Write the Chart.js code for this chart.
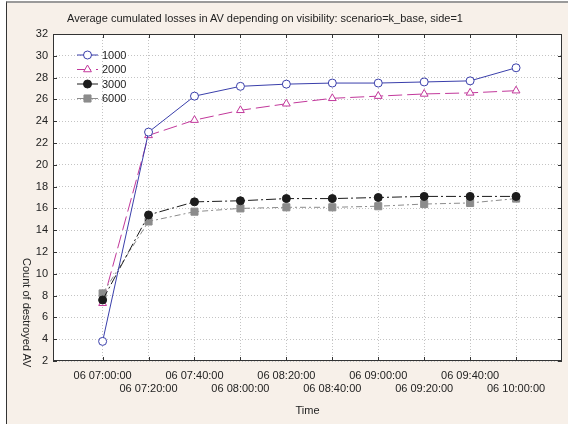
<!DOCTYPE html>
<html lang="en">
<head>
	<meta charset="UTF-8">
	<title>Average cumulated losses in AV</title>
	<script src="https://cdn.jsdelivr.net/npm/chart.js@4.4.1/dist/chart.umd.min.js"></script>
	<style>
		body { margin: 0; background: #fff; font-family: "Liberation Sans", Arial, sans-serif; }
		#wrap { position: relative; width: 568px; height: 424px; overflow: hidden; }
		#frame { position: absolute; left: 6px; top: 1px; width: 562px; height: 423px; background: #f7f0e9;
			border-left: 1px solid #333; border-top: 2px solid #9a9a9a; box-sizing: border-box; }
		#chart { position: absolute; left: 0; top: 0; }
		.title { position: absolute; left: 265px; top: 12px; transform: translateX(-50%); white-space: nowrap;
			font-size: 11px; color: #222; }
		.ytitle { position: absolute; left: 21px; top: 258px; writing-mode: vertical-rl; white-space: nowrap;
			font-size: 11px; color: #222; }
	</style>
</head>
<body>
	<div id="wrap">
		<div id="frame"></div>
		<canvas id="chart" width="568" height="424"></canvas>
		<div class="title">Average cumulated losses in AV depending on visibility: scenario=k_base, side=1</div>
		<div class="ytitle">Count of destroyed AV</div>
	</div>

	<script>
		// time steps on the x axis
		var categories = ['06 07:00:00', '06 07:20:00', '06 07:40:00', '06 08:00:00', '06 08:20:00',
			'06 08:40:00', '06 09:00:00', '06 09:20:00', '06 09:40:00', '06 10:00:00'];

		// visibility series
		var seriesNames = ['1000', '2000', '3000', '6000'];
		var v1000 = [3.8, 23.0, 26.3, 27.2, 27.4, 27.5, 27.5, 27.6, 27.7, 28.9];
		var v2000 = [7.3, 22.7, 24.1, 25.0, 25.6, 26.1, 26.3, 26.5, 26.6, 26.8];
		var v3000 = [7.6, 15.4, 16.6, 16.7, 16.9, 16.9, 17.0, 17.1, 17.1, 17.1];
		var v6000 = [8.2, 14.8, 15.7, 16.0, 16.1, 16.1, 16.2, 16.4, 16.5, 16.9];

		// y ticks
		var yMin = 2, yMax = 32, yStep = 2;

		function pts(values) {
			return values.map(function (v, i) { return { x: i, y: v }; });
		}

		var font = { family: '"Liberation Sans", Arial, sans-serif', size: 11 };

		// white plot area, frame and inward tick marks
		var plotFrame = {
			id: 'plotFrame',
			beforeDraw: function (chart) {
				var a = chart.chartArea, ctx = chart.ctx;
				ctx.save();
				ctx.fillStyle = '#fff';
				ctx.fillRect(a.left, a.top, a.right - a.left, a.bottom - a.top);
				ctx.restore();
			},
			afterDatasetsDraw: function (chart) {
				var a = chart.chartArea, ctx = chart.ctx;
				var xs = chart.scales.x, ys = chart.scales.y;
				ctx.save();
				ctx.strokeStyle = '#333';
				ctx.lineWidth = 1;
				ctx.strokeRect(a.left + 0.5, a.top + 0.5, a.right - a.left - 1, a.bottom - a.top - 1);
				ctx.beginPath();
				xs.ticks.forEach(function (t) {
					var x = Math.round(xs.getPixelForValue(t.value)) + 0.5;
					ctx.moveTo(x, a.bottom); ctx.lineTo(x, a.bottom - 4);
					ctx.moveTo(x, a.top); ctx.lineTo(x, a.top + 4);
				});
				ys.ticks.forEach(function (t) {
					var y = Math.round(ys.getPixelForValue(t.value)) + 0.5;
					ctx.moveTo(a.left, y); ctx.lineTo(a.left + 4, y);
					ctx.moveTo(a.right, y); ctx.lineTo(a.right - 4, y);
				});
				ctx.stroke();
				ctx.restore();
			}
		};

		// legend in the top left corner of the plot, line + marker
		var innerLegend = {
			id: 'innerLegend',
			afterDraw: function (chart) {
				var ctx = chart.ctx;
				var rows = [55, 69.5, 84, 98.5];
				ctx.save();
				chart.data.datasets.forEach(function (ds, i) {
					var y = rows[i];
					ctx.strokeStyle = ds.borderColor;
					ctx.lineWidth = ds.borderWidth;
					ctx.setLineDash(ds.legendDash || []);
					ctx.beginPath();
					ctx.moveTo(77, y); ctx.lineTo(98, y);
					ctx.stroke();
					ctx.setLineDash([]);
					ctx.fillStyle = ds.pointBackgroundColor;
					ctx.strokeStyle = ds.pointBorderColor;
					ctx.lineWidth = 1;
					Chart.helpers.drawPoint(ctx, {
						pointStyle: ds.pointStyle, radius: ds.pointRadius, borderWidth: 1, rotation: 0
					}, 87.5, y);
					ctx.fillStyle = '#222';
					ctx.font = '11px "Liberation Sans", Arial, sans-serif';
					ctx.textBaseline = 'middle';
					ctx.fillText(ds.label, 102, y + 0.5);
				});
				ctx.restore();
			}
		};

		new Chart(document.getElementById('chart'), {
			type: 'line',
			data: {
				datasets: [
					{
						label: seriesNames[0], data: pts(v1000), order: 0,
						borderColor: '#3a3fab', borderWidth: 1, legendDash: [],
						pointStyle: 'circle', pointRadius: 4,
						pointBackgroundColor: '#fff', pointBorderColor: '#3a3fab', pointBorderWidth: 1
					},
					{
						label: seriesNames[1], data: pts(v2000), order: 3,
						borderColor: '#c2389b', borderWidth: 1, borderDash: [14, 5], legendDash: [14, 5],
						pointStyle: 'triangle', pointRadius: 4.5,
						pointBackgroundColor: '#fff', pointBorderColor: '#c2389b', pointBorderWidth: 1
					},
					{
						label: seriesNames[2], data: pts(v3000), order: 1,
						borderColor: '#1c1c1c', borderWidth: 1, borderDash: [10, 3, 2, 3], legendDash: [],
						pointStyle: 'circle', pointRadius: 4,
						pointBackgroundColor: '#1c1c1c', pointBorderColor: '#1c1c1c', pointBorderWidth: 1
					},
					{
						label: seriesNames[3], data: pts(v6000), order: 2,
						borderColor: '#8c8c8c', borderWidth: 1, borderDash: [6, 3, 2, 3], legendDash: [],
						pointStyle: 'rect', pointRadius: 5,
						pointBackgroundColor: '#8c8c8c', pointBorderColor: '#8c8c8c', pointBorderWidth: 1
					}
				]
			},
			options: {
				responsive: false,
				animation: false,
				devicePixelRatio: 1,
				layout: { padding: { left: 0, top: 34, right: 1, bottom: 0 } },
				plugins: { legend: { display: false }, title: { display: false }, tooltip: { enabled: false } },
				elements: { line: { tension: 0 } },
				scales: {
					x: {
						type: 'linear',
						min: -1.08,
						max: categories.length,
						afterBuildTicks: function (s) {
							s.ticks = categories.map(function (c, i) { return { value: i }; });
						},
						afterFit: function (s) { s.height = 63; },
						grid: { color: '#c4c4c4', drawTicks: false },
						border: { display: false, dash: [1, 2] },
						ticks: {
							autoSkip: false, maxRotation: 0, minRotation: 0, padding: 8,
							color: '#222', font: font,
							callback: function (v) {
								var i = Math.round(v);
								return i % 2 === 0 ? [categories[i]] : ['', categories[i]];
							}
						},
						title: { display: true, text: 'Time', color: '#222', font: font, padding: { top: 0, bottom: 6 } }
					},
					y: {
						min: yMin,
						max: yMax,
						afterFit: function (s) { s.width = 53; },
						grid: { color: '#c4c4c4', drawTicks: false },
						border: { display: false, dash: [1, 2] },
						ticks: { stepSize: yStep, padding: 5, color: '#222', font: font }
					}
				}
			},
			plugins: [plotFrame, innerLegend]
		});
	</script>
</body>
</html>
